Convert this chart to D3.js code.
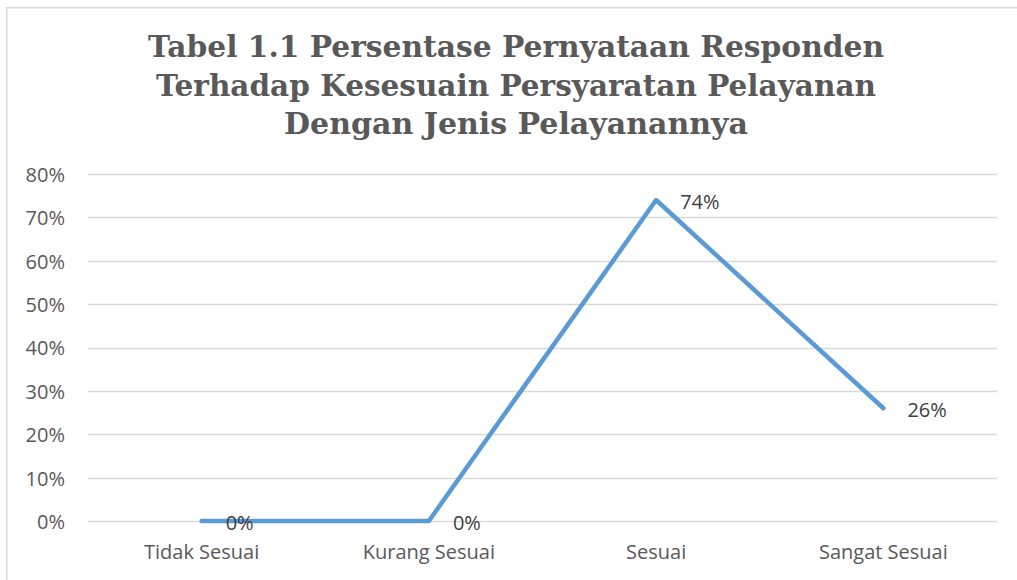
<!DOCTYPE html>
<html>
<head>
<meta charset="utf-8">
<script src="https://cdn.jsdelivr.net/npm/d3@7"></script>
<style>
  html, body { margin: 0; padding: 0; background: #fff; }
  svg { display: block; }
</style>
</head>
<body>
<svg id="chart" width="1017" height="580"></svg>
<script>
const titleLines = [
  "Tabel 1.1 Persentase Pernyataan Responden",
  "Terhadap Kesesuain Persyaratan Pelayanan",
  "Dengan Jenis Pelayanannya"
];
const categories = ["Tidak Sesuai", "Kurang Sesuai", "Sesuai", "Sangat Sesuai"];
const values = [0, 0, 0.74, 0.26];
const yTicks = [0, 0.1, 0.2, 0.3, 0.4, 0.5, 0.6, 0.7, 0.8];

(function () {
const svg = d3.select("#chart");
const labelFont = "'Open Sans', sans-serif";

// outer border (left + top visible)
svg.append("path")
  .attr("d", "M6.75,580 L6.75,7.75 L1017,7.75")
  .attr("fill", "none").attr("stroke", "#d9d9d9").attr("stroke-width", 1.5);

const pLeft = 88, pRight = 997, pTop = 174, pBottom = 521;

const x = d3.scaleBand().domain(categories).range([pLeft, pRight]);
const y = d3.scaleLinear().domain([0, 0.8]).range([pBottom, pTop]);

// title
const titleWidths = [736, 720, 464];
const title = svg.append("g");
titleLines.forEach((t, i) => {
  title.append("text")
    .attr("x", 516).attr("y", 57 + i * 38.5)
    .attr("text-anchor", "middle")
    .attr("font-family", "'DejaVu Serif', serif")
    .attr("font-weight", "bold")
    .attr("font-size", 30)
    .attr("fill", "#595959")
    .attr("textLength", titleWidths[i])
    .attr("lengthAdjust", "spacingAndGlyphs")
    .text(t);
});

// gridlines
svg.append("g")
  .selectAll("line").data(yTicks).join("line")
  .attr("x1", pLeft).attr("x2", pRight)
  .attr("y1", d => Math.round(y(d)) + 0.5).attr("y2", d => Math.round(y(d)) + 0.5)
  .attr("stroke", "#d9d9d9").attr("stroke-width", 1.5);

// y axis labels
const yAxis = d3.axisLeft(y).tickValues(yTicks).tickFormat(d3.format(".0%")).tickSize(0).tickPadding(0);
const yg = svg.append("g").attr("transform", "translate(65,1)").call(yAxis);
yg.select(".domain").remove();
yg.selectAll("text")
  .attr("font-family", labelFont)
  .attr("font-size", 20)
  .attr("fill", "#595959");

// x axis labels
const xAxis = d3.axisBottom(x).tickSize(0).tickPadding(0);
const xg = svg.append("g").attr("transform", `translate(0,${pBottom + 24})`).call(xAxis);
xg.select(".domain").remove();
xg.selectAll("text")
  .attr("font-family", labelFont)
  .attr("font-size", 20)
  .attr("fill", "#595959");

// line
const line = d3.line()
  .x((d, i) => x(categories[i]) + x.bandwidth() / 2)
  .y(d => y(d));
svg.append("path")
  .datum(values)
  .attr("d", line)
  .attr("fill", "none")
  .attr("stroke", "#5b9bd5")
  .attr("stroke-width", 4.5)
  .attr("stroke-linecap", "round")
  .attr("stroke-linejoin", "round");

// data labels
svg.append("g").selectAll("text").data(values).join("text")
  .attr("x", (d, i) => x(categories[i]) + x.bandwidth() / 2 + 24)
  .attr("y", d => y(d) + 9)
  .attr("font-family", labelFont)
  .attr("font-size", 20)
  .attr("fill", "#404040")
  .text(d => d3.format(".0%")(d));
})();
</script>
</body>
</html>
